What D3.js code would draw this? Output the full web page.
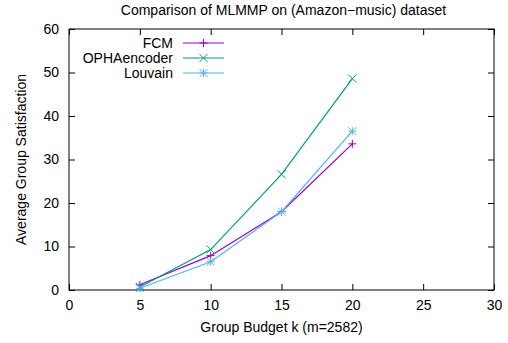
<!DOCTYPE html>
<html>
<head>
<meta charset="utf-8">
<script src="https://cdn.jsdelivr.net/npm/d3@7"></script>
<style>
  body { margin: 0; background: #fff; }
  text { font-family: "Liberation Sans", Arial, sans-serif; font-size: 14px; fill: #000; }
</style>
</head>
<body>
<svg></svg>
<script>
const size = {w: 508, h: 343};
const margin = {t: 29, r: 14, b: 53, l: 69};

// data
const budgets = [5, 10, 15, 20];
const fcm = [1.2, 7.9, 18.0, 33.6];
const ophaencoder = [0.7, 9.3, 26.6, 48.6];
const louvain = [0.4, 6.5, 18.0, 36.5];
const seriesNames = ['FCM', 'OPHAencoder', 'Louvain'];
const xTicks = [0, 5, 10, 15, 20, 25, 30];
const yTicks = [0, 10, 20, 30, 40, 50, 60];

const series = [
    {name: seriesNames[0], values: fcm, color: '#9400d3', marker: 'plus'},
    {name: seriesNames[1], values: ophaencoder, color: '#009e73', marker: 'cross'},
    {name: seriesNames[2], values: louvain, color: '#56b4e9', marker: 'star'}
];

const svg = d3.select('svg')
    .attr('width', size.w)
    .attr('height', size.h);

const x = d3.scaleLinear().domain([0, 30]).range([margin.l, size.w - margin.r]);
const y = d3.scaleLinear().domain([0, 60]).range([size.h - margin.b, margin.t]);

// axes with inward ticks, mirrored on top/right
const tick = 6;
svg.append('g')
    .attr('transform', `translate(0,${y(0)})`)
    .call(d3.axisBottom(x).tickValues(xTicks).tickSizeInner(-tick).tickSizeOuter(0).tickPadding(10))
    .call(g => g.select('.domain').remove());
svg.append('g')
    .attr('transform', `translate(0,${y(60)})`)
    .call(d3.axisTop(x).tickValues(xTicks).tickSizeInner(-tick).tickSizeOuter(0).tickFormat(''))
    .call(g => g.select('.domain').remove());
svg.append('g')
    .attr('transform', `translate(${x(0)},0)`)
    .call(d3.axisLeft(y).tickValues(yTicks).tickSizeInner(-tick).tickSizeOuter(0).tickPadding(10))
    .call(g => g.select('.domain').remove());
svg.append('g')
    .attr('transform', `translate(${x(30)},0)`)
    .call(d3.axisRight(y).tickValues(yTicks).tickSizeInner(-tick).tickSizeOuter(0).tickFormat(''))
    .call(g => g.select('.domain').remove());

svg.selectAll('.tick text').style('font-size', '14px').attr('fill', '#000');
svg.selectAll('.tick line').attr('stroke', '#000');

// plot border
svg.append('rect')
    .attr('x', x(0)).attr('y', y(60))
    .attr('width', x(30) - x(0)).attr('height', y(0) - y(60))
    .attr('fill', 'none').attr('stroke', '#000').attr('stroke-width', 1);

// marker drawing
function drawMarker(g, type, cx, cy, color) {
    const s = 4;
    const segs = [];
    if (type === 'plus' || type === 'star') {
        segs.push([cx - s, cy, cx + s, cy], [cx, cy - s, cx, cy + s]);
    }
    if (type === 'cross' || type === 'star') {
        segs.push([cx - s, cy - s, cx + s, cy + s], [cx - s, cy + s, cx + s, cy - s]);
    }
    segs.forEach(p => {
        g.append('line')
            .attr('x1', p[0]).attr('y1', p[1]).attr('x2', p[2]).attr('y2', p[3])
            .attr('stroke', color).attr('stroke-width', 1);
    });
}

const line = d3.line().x(d => x(d[0])).y(d => y(d[1]));
const linesG = svg.append('g').classed('lines', true);

series.forEach(s => {
    const pts = budgets.map((b, i) => [b, s.values[i]]);
    linesG.append('path')
        .attr('d', line(pts))
        .attr('fill', 'none')
        .attr('stroke', s.color)
        .attr('stroke-width', 1.2);
    pts.forEach(p => drawMarker(linesG, s.marker, x(p[0]), y(p[1]), s.color));
});

// legend
const legendG = svg.append('g').classed('legend', true);
series.forEach((s, i) => {
    const ly = 43 + i * 15;
    legendG.append('text')
        .attr('x', 173).attr('y', ly)
        .attr('dy', '0.35em')
        .attr('text-anchor', 'end')
        .text(s.name);
    legendG.append('line')
        .attr('x1', 183).attr('x2', 224).attr('y1', ly).attr('y2', ly)
        .attr('stroke', s.color).attr('stroke-width', 1.2);
    drawMarker(legendG, s.marker, 203.5, ly, s.color);
});

// title and axis labels
svg.append('text')
    .attr('x', (x(0) + x(30)) / 2 + 2).attr('y', 15)
    .attr('text-anchor', 'middle')
    .text('Comparison of MLMMP on (Amazon\u2212music) dataset');
svg.append('text')
    .attr('x', (x(0) + x(30)) / 2).attr('y', 332)
    .attr('text-anchor', 'middle')
    .text('Group Budget k (m=2582)');
svg.append('text')
    .attr('transform', `translate(26,${(y(0) + y(60)) / 2}) rotate(-90)`)
    .attr('text-anchor', 'middle')
    .text('Average Group Satisfaction');
</script>
</body>
</html>
